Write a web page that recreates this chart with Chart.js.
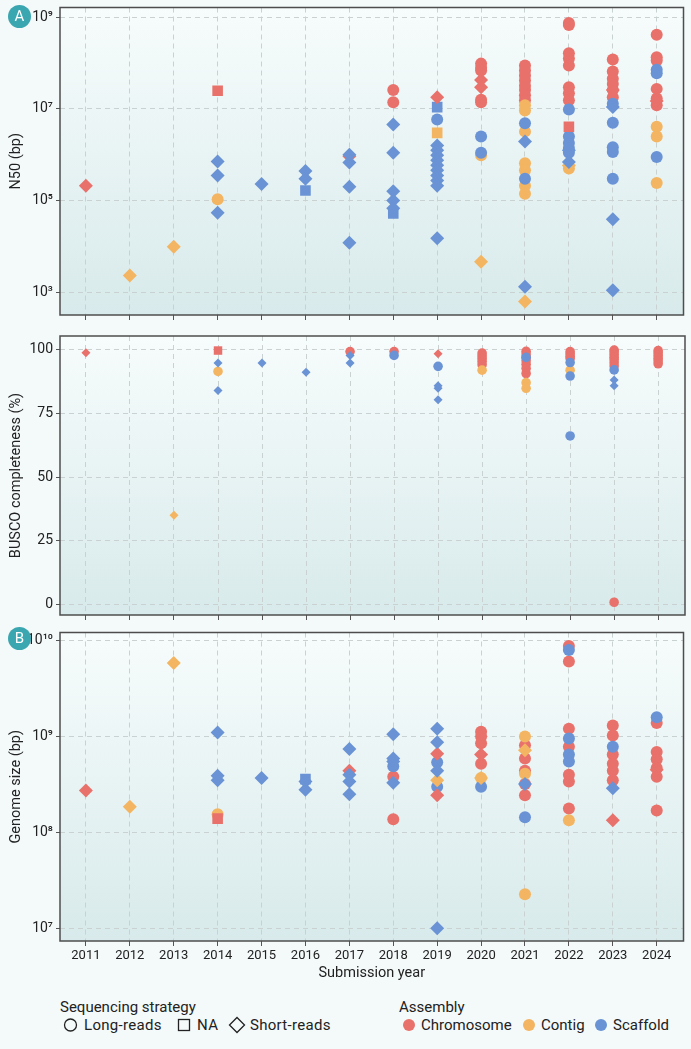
<!DOCTYPE html>
<html>
<head>
<meta charset="utf-8">
<script src="https://cdn.jsdelivr.net/npm/chart.js@4.4.1/dist/chart.umd.min.js"></script>
<style>
  body { margin: 0; background: #f4f9f9; width: 691px; height: 1049px; position: relative; overflow: hidden; font-family: Roboto, sans-serif; }
  canvas { position: absolute; left: 0; }
  #c1 { top: 0; }
  #c2 { top: 330px; }
  #c3 { top: 625px; }
  .badge { position: absolute; width: 23px; height: 23px; border-radius: 50%; background: #3aa6b0; color: #fff;
           font-size: 15px; line-height: 23px; text-align: center; z-index: 5; }
  #legend { position: absolute; left: 0; top: 985px; }
</style>
</head>
<body>
<div class="badge" style="left:8px;top:5px">A</div>
<div class="badge" style="left:8px;top:627px">B</div>
<canvas id="c1" width="691" height="330"></canvas>
<canvas id="c2" width="691" height="295"></canvas>
<canvas id="c3" width="691" height="360"></canvas>
<svg id="legend" width="691" height="64"></svg>
<script>
// Axes
const years = [2011, 2012, 2013, 2014, 2015, 2016, 2017, 2018, 2019, 2020, 2021, 2022, 2023, 2024];
const n50Ticks = [1e3, 1e5, 1e7, 1e9];
const buscoTicks = [0, 25, 50, 75, 100];
const sizeTicks = [1e7, 1e8, 1e9, 1e10];

const strategies = ['Long-reads', 'NA', 'Short-reads'];
const assemblies = ['Chromosome', 'Contig', 'Scaffold'];

// N50 (bp) — [year, value]
const n50LongChrom = [[2018, 2.6e7], [2018, 1.4e7], [2020, 9.8e7], [2020, 8.0e7], [2020, 6.9e7], [2020, 1.6e7], [2020, 1.4e7],
  [2021, 8.9e7], [2021, 6.9e7], [2021, 5.4e7], [2021, 4.2e7], [2021, 3.2e7], [2021, 2.6e7], [2021, 2.0e7], [2021, 1.55e7],
  [2022, 7.6e8], [2022, 6.8e8], [2022, 1.66e8], [2022, 1.26e8], [2022, 8.9e7], [2022, 3.0e7], [2022, 2.2e7], [2022, 1.55e7],
  [2023, 1.2e8], [2023, 6.6e7], [2023, 4.6e7], [2023, 3.5e7], [2023, 2.6e7], [2023, 1.8e7],
  [2024, 4.2e8], [2024, 1.35e8], [2024, 1.15e8], [2024, 2.75e7], [2024, 1.7e7], [2024, 1.2e7]];
const n50LongContig = [[2014, 1.07e5], [2020, 9.8e5], [2021, 1.2e7], [2021, 9.3e6], [2021, 3.2e6], [2021, 6.5e5], [2021, 4.6e5],
  [2021, 2.1e5], [2021, 1.4e5], [2022, 5.0e5], [2024, 4.1e6], [2024, 2.5e6], [2024, 2.4e5]];
const n50LongScaf = [[2019, 5.9e6], [2020, 2.5e6], [2020, 1.1e6], [2021, 4.9e6], [2021, 3.0e5],
  [2022, 9.8e6], [2022, 2.5e6], [2022, 1.8e6], [2022, 1.4e6], [2022, 1.1e6],
  [2023, 1.3e7], [2023, 5.0e6], [2023, 1.45e6], [2023, 1.15e6], [2023, 3.0e5], [2024, 7.2e7], [2024, 6.0e7], [2024, 8.9e5]];
const n50NAChrom = [[2014, 2.5e7], [2022, 4.1e6]];
const n50NAContig = [[2019, 3.0e6]];
const n50NAScaf = [[2016, 1.66e5], [2018, 5.2e4], [2019, 1.1e7]];
const n50ShortChrom = [[2011, 2.1e5], [2017, 9.3e5], [2019, 1.8e7], [2020, 4.3e7], [2020, 3.0e7], [2023, 2.6e7], [2024, 1.5e7]];
const n50ShortContig = [[2012, 2.3e3], [2013, 9.8e3], [2020, 4.6e3], [2021, 6.2e2], [2022, 5.8e5]];
const n50ShortScaf = [[2014, 7.1e5], [2014, 3.5e5], [2014, 5.4e4], [2015, 2.3e5], [2016, 4.4e5], [2016, 3.0e5],
  [2017, 1.0e6], [2017, 6.8e5], [2017, 2.0e5], [2017, 1.2e4], [2018, 4.6e6], [2018, 1.1e6], [2018, 1.6e5], [2018, 1.0e5], [2018, 6.8e4],
  [2019, 1.6e6], [2019, 1.26e6], [2019, 9.8e5], [2019, 7.6e5], [2019, 5.9e5], [2019, 4.6e5], [2019, 3.5e5], [2019, 2.75e5], [2019, 2.1e5], [2019, 1.5e4],
  [2021, 1.95e6], [2021, 1.3e3], [2022, 1.26e6], [2022, 6.9e5], [2023, 1.1e7], [2023, 3.9e4], [2023, 1.1e3]];

// BUSCO completeness (%)
const buscoLongChrom = [[2017, 99.2], [2018, 99.2], [2020, 98.6], [2020, 97.6], [2020, 96.5], [2020, 95.3], [2020, 94.0],
  [2021, 99.3], [2021, 98.2], [2021, 97.0], [2021, 95.6], [2021, 94.2], [2021, 92.6], [2021, 90.6],
  [2022, 99.2], [2022, 98.3], [2022, 97.4], [2022, 96.5],
  [2023, 99.8], [2023, 99.0], [2023, 98.0], [2023, 97.0], [2023, 96.0], [2023, 94.8], [2023, 93.5], [2023, 0.9],
  [2024, 99.6], [2024, 98.7], [2024, 97.7], [2024, 96.6], [2024, 95.5], [2024, 94.4]];
const buscoLongContig = [[2014, 91.4], [2020, 91.9], [2021, 87.0], [2021, 84.8], [2022, 91.9]];
const buscoLongScaf = [[2018, 97.7], [2019, 93.4], [2021, 96.9], [2022, 94.9], [2022, 89.6], [2022, 66.1], [2023, 92.0]];
const buscoNAChrom = [[2014, 99.6]];
const buscoShortChrom = [[2011, 98.7], [2017, 99.0], [2019, 98.3]];
const buscoShortContig = [[2013, 35.0]];
const buscoShortScaf = [[2014, 94.7], [2014, 83.9], [2015, 94.7], [2016, 91.1], [2017, 97.7], [2017, 94.7],
  [2019, 85.8], [2019, 84.8], [2019, 80.3], [2023, 88.0], [2023, 85.8]];

// Genome size (bp)
const sizeLongChrom = [[2018, 3.8e8], [2018, 1.38e8], [2020, 1.12e9], [2020, 1.0e9], [2020, 8.5e8], [2020, 5.2e8],
  [2021, 8.1e8], [2021, 5.9e8], [2021, 4.4e8], [2021, 3.2e8], [2021, 2.45e8],
  [2022, 8.7e9], [2022, 6.0e9], [2022, 1.2e9], [2022, 7.8e8], [2022, 4.0e8], [2022, 3.4e8], [2022, 1.78e8],
  [2023, 1.3e9], [2023, 1.02e9], [2023, 6.5e8], [2023, 5.2e8], [2023, 4.4e8], [2023, 3.5e8],
  [2024, 1.38e9], [2024, 6.9e8], [2024, 5.8e8], [2024, 4.7e8], [2024, 3.8e8], [2024, 1.7e8]];
const sizeLongContig = [[2014, 1.55e8], [2020, 3.7e8], [2021, 1.0e9], [2021, 4.1e8], [2021, 2.3e7], [2022, 1.35e8]];
const sizeLongScaf = [[2018, 4.9e8], [2019, 5.4e8], [2019, 3.0e8], [2020, 3.0e8], [2021, 1.45e8],
  [2022, 7.9e9], [2022, 9.5e8], [2022, 6.5e8], [2022, 5.5e8], [2023, 7.8e8], [2024, 1.58e9]];
const sizeNAChrom = [[2014, 1.4e8]];
const sizeNAScaf = [[2016, 3.6e8]];
const sizeShortChrom = [[2011, 2.75e8], [2017, 4.4e8], [2019, 6.6e8], [2019, 2.45e8], [2020, 6.5e8], [2023, 1.35e8], [2024, 4.5e8]];
const sizeShortContig = [[2012, 1.86e8], [2013, 5.8e9], [2019, 3.5e8], [2020, 3.7e8], [2021, 7.2e8]];
const sizeShortScaf = [[2014, 1.1e9], [2014, 3.9e8], [2014, 3.5e8], [2015, 3.7e8], [2016, 3.4e8], [2016, 2.8e8],
  [2017, 7.4e8], [2017, 4.0e8], [2017, 3.4e8], [2017, 2.5e8], [2018, 1.05e9], [2018, 5.9e8], [2018, 5.5e8], [2018, 3.3e8],
  [2019, 1.2e9], [2019, 8.7e8], [2019, 4.4e8], [2019, 1.02e7], [2021, 3.2e8], [2023, 2.9e8]];

// Estilos
const colors = { Chromosome: '#e9716b', Contig: '#f3b562', Scaffold: '#6a93d5' };
const gridColor = '#c9d1d1';
const textColor = '#222';
const SUP = { '0': '⁰', '1': '¹', '2': '²', '3': '³', '4': '⁴', '5': '⁵', '6': '⁶', '7': '⁷', '8': '⁸', '9': '⁹' };

function powLabel(v) {
  const e = String(Math.round(Math.log10(v)));
  return '10' + e.split('').map(d => SUP[d]).join('');
}

// shape: circle = Long-reads, rect = NA, rectRot = Short-reads
function serie(data, shape, assembly, r) {
  return {
    label: assembly,
    data: data.map(p => ({ x: p[0], y: p[1] })),
    pointStyle: shape,
    pointRadius: r,
    pointHoverRadius: r,
    backgroundColor: colors[assembly],
    borderWidth: 0
  };
}

// first dataset is drawn on top
function buildSets(g, s) {
  return [
    serie(g.shortScaf || [], 'rectRot', 'Scaffold', s.d),
    serie(g.shortContig || [], 'rectRot', 'Contig', s.d),
    serie(g.shortChrom || [], 'rectRot', 'Chromosome', s.d),
    serie(g.naScaf || [], 'rect', 'Scaffold', s.q),
    serie(g.naContig || [], 'rect', 'Contig', s.q),
    serie(g.naChrom || [], 'rect', 'Chromosome', s.q),
    serie(g.longScaf || [], 'circle', 'Scaffold', s.c),
    serie(g.longContig || [], 'circle', 'Contig', s.c),
    serie(g.longChrom || [], 'circle', 'Chromosome', s.c)
  ];
}

const panelBg = {
  id: 'panelBg',
  beforeDraw(chart) {
    const { ctx, chartArea: a } = chart;
    const g = ctx.createLinearGradient(0, a.top, 0, a.bottom);
    g.addColorStop(0, '#f7fcfc');
    g.addColorStop(1, '#d8eaeb');
    ctx.save();
    ctx.fillStyle = g;
    ctx.fillRect(a.left, a.top, a.right - a.left, a.bottom - a.top);
    ctx.restore();
  },
  afterDraw(chart) {
    const { ctx, chartArea: a } = chart;
    ctx.save();
    ctx.strokeStyle = '#4d4d4d';
    ctx.lineWidth = 1.5;
    ctx.strokeRect(a.left, a.top, a.right - a.left, a.bottom - a.top);
    ctx.restore();
  }
};

function makeChart(id, cfg) {
  return new Chart(document.getElementById(id), {
    type: 'scatter',
    data: { datasets: cfg.datasets },
    options: {
      responsive: false,
      animation: false,
      layout: { padding: { left: 0, right: 6, top: cfg.top, bottom: 0 } },
      plugins: { legend: { display: false }, tooltip: { enabled: false } },
      scales: {
        x: {
          type: 'linear',
          min: 2010.41,
          max: 2024.61,
          afterBuildTicks: s => { s.ticks = years.map(v => ({ value: v })); },
          afterFit: s => { s.height = cfg.xHeight; s.paddingLeft = 0; s.paddingRight = 0; },
          grid: { color: gridColor, lineWidth: 1, tickColor: '#555', tickLength: 5 },
          border: { display: false, dash: [5, 4] },
          ticks: {
            display: cfg.showX, color: textColor, font: { family: 'Roboto', size: 13 },
            padding: 2, autoSkip: false, maxRotation: 0, callback: v => String(v)
          },
          title: {
            display: cfg.showX, text: 'Submission year', color: textColor,
            font: { family: 'Roboto', size: 14.5 }, padding: { top: 0, bottom: 3 }
          }
        },
        y: {
          type: cfg.yType,
          min: cfg.yMin,
          max: cfg.yMax,
          afterBuildTicks: s => { s.ticks = cfg.yTicks.map(v => ({ value: v })); },
          afterFit: s => { s.width = 60; s.paddingTop = 0; s.paddingBottom = 0; },
          grid: { color: gridColor, lineWidth: 1, tickColor: '#555', tickLength: 4 },
          border: { display: false, dash: [5, 4] },
          ticks: {
            color: textColor, font: { family: 'Roboto', size: 14 }, padding: 3, autoSkip: false,
            callback: cfg.yLabel
          },
          title: {
            display: true, text: cfg.yTitle, color: textColor,
            font: { family: 'Roboto', size: 14.5 }, padding: { top: 8, bottom: 0 }
          }
        }
      }
    },
    plugins: [panelBg]
  });
}

makeChart('c1', {
  datasets: buildSets({
    longChrom: n50LongChrom, longContig: n50LongContig, longScaf: n50LongScaf,
    naChrom: n50NAChrom, naContig: n50NAContig, naScaf: n50NAScaf,
    shortChrom: n50ShortChrom, shortContig: n50ShortContig, shortScaf: n50ShortScaf
  }, { c: 6, d: 7, q: 7.5 }),
  top: 7, xHeight: 15, showX: false,
  yType: 'logarithmic', yMin: 315, yMax: 1.65e9, yTicks: n50Ticks, yLabel: v => powLabel(v),
  yTitle: 'N50 (bp)'
});

makeChart('c2', {
  datasets: buildSets({
    longChrom: buscoLongChrom, longContig: buscoLongContig, longScaf: buscoLongScaf,
    naChrom: buscoNAChrom,
    shortChrom: buscoShortChrom, shortContig: buscoShortContig, shortScaf: buscoShortScaf
  }, { c: 4.8, d: 4.5, q: 6 }),
  top: 2, xHeight: 10, showX: false,
  yType: 'linear', yMin: -4.1, yMax: 105.3, yTicks: buscoTicks, yLabel: v => String(v),
  yTitle: 'BUSCO completeness (%)'
});

makeChart('c3', {
  datasets: buildSets({
    longChrom: sizeLongChrom, longContig: sizeLongContig, longScaf: sizeLongScaf,
    naChrom: sizeNAChrom, naScaf: sizeNAScaf,
    shortChrom: sizeShortChrom, shortContig: sizeShortContig, shortScaf: sizeShortScaf
  }, { c: 6, d: 7, q: 7.5 }),
  top: 5, xHeight: 44, showX: true,
  yType: 'logarithmic', yMin: 7.5e6, yMax: 1.2e10, yTicks: sizeTicks, yLabel: v => powLabel(v),
  yTitle: 'Genome size (bp)'
});

// Legenda
const svg = document.getElementById('legend');
const NS = 'http://www.w3.org/2000/svg';
function el(tag, attrs, text) {
  const e = document.createElementNS(NS, tag);
  for (const k in attrs) e.setAttribute(k, attrs[k]);
  if (text) e.textContent = text;
  svg.appendChild(e);
  return e;
}
const font = { 'font-family': 'Roboto, sans-serif', 'font-size': '15', fill: textColor };
el('text', Object.assign({ x: 60, y: 27 }, font), 'Sequencing strategy');
el('text', Object.assign({ x: 399, y: 27 }, font), 'Assembly');

const shapeX = [70.5, 184, 237];
const shapeTextX = [84, 197, 250];
const cy = 40;
el('circle', { cx: shapeX[0], cy: cy, r: 6, fill: 'none', stroke: '#222', 'stroke-width': 1.3 });
el('rect', { x: shapeX[1] - 5.5, y: cy - 5.5, width: 11, height: 11, fill: 'none', stroke: '#222', 'stroke-width': 1.3 });
el('polygon', { points: `${shapeX[2]},${cy - 7.5} ${shapeX[2] + 7.5},${cy} ${shapeX[2]},${cy + 7.5} ${shapeX[2] - 7.5},${cy}`,
  fill: 'none', stroke: '#222', 'stroke-width': 1.3 });
strategies.forEach((s, i) => el('text', Object.assign({ x: shapeTextX[i], y: 45, 'letter-spacing': '0.3' }, font), s));

const dotX = [409, 529, 601];
const dotTextX = [421, 541, 613];
assemblies.forEach((a, i) => {
  el('circle', { cx: dotX[i], cy: cy, r: 6, fill: colors[a] });
  el('text', Object.assign({ x: dotTextX[i], y: 45 }, font), a);
});
</script>
</body>
</html>
